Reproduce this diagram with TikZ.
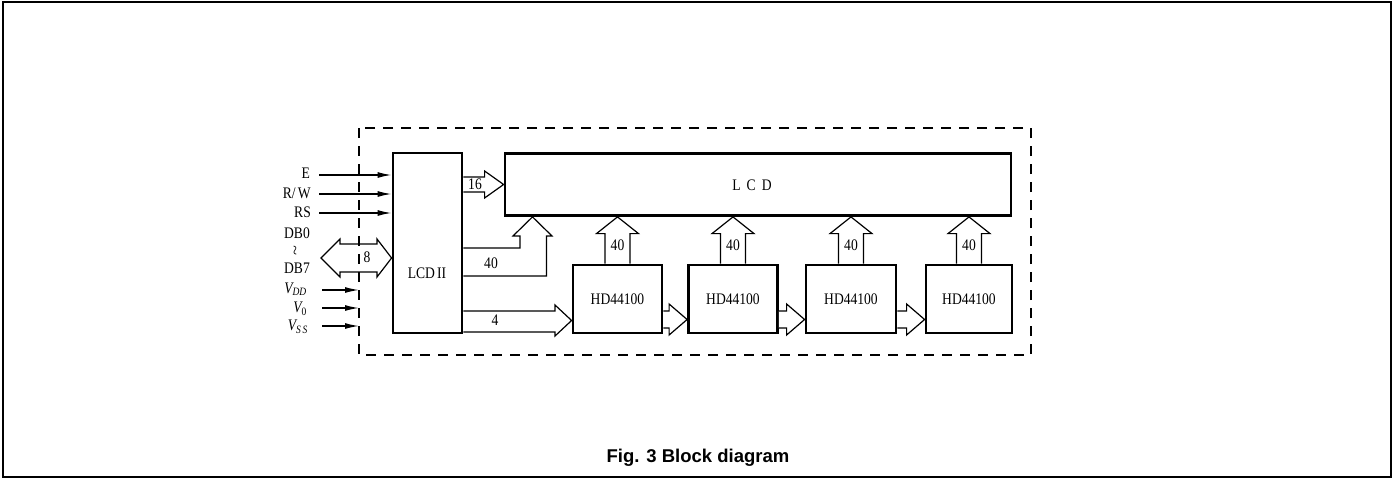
\documentclass[tikz,border=0pt]{standalone}
\usepackage{graphicx}
\usepackage{fontspec}
\setmainfont{Liberation Serif}
\newfontfamily\capfont{Liberation Sans}
\usetikzlibrary{arrows.meta,calc}
\newcommand\tallt[1]{\scalebox{0.97}[1.15]{#1}}
\newcommand\hdup[1]{%
  \draw[bus] ($(#1.north)+(-12.5,0)$) -- ++(0,-30) -- ++(-8.5,0) -- (#1.north |- lcd.south)
     -- ($(#1.north)+(21,-30)$) -- ++(-8.5,0) -- ++(0,30);
  \node[txt] (#1lbl) at ($(#1.north)+(0,-18)$) {\tallt{40}};}
\newcommand\hdchain[2]{%
  \draw[bus] ($(#1.east)+(0,12)$) -- ($(#2.west)+(-18,12)$) -- ($(#2.west)+(-18,5)$)
     -- ($(#2.west)+(0,20.5)$) -- ($(#2.west)+(-18,36)$) -- ($(#2.west)+(-18,29)$)
     -- ($(#1.east)+(0,29)$);}
\begin{document}
\begin{tikzpicture}[x=1pt,y=-1pt,
  blk/.style={draw,line width=2.8pt,inner sep=0pt},
  txt/.style={font=\fontsize{14}{14}\selectfont,inner sep=0pt},
  bus/.style={draw,line width=1.2pt,fill=white,line join=miter},
  sig/.style={line width=1.4pt,-{Latex[length=14pt,width=6pt]}},
  hd/.style={blk,txt,minimum height=68pt}]
\useasboundingbox (0,0) rectangle (1393,479);
\draw[line width=1.6pt] (3,2) rectangle (1391,477);

% blocks
\node[blk,minimum width=69pt,minimum height=180pt] (lcdii) at (427.5,243) {};
\node[txt] (lcdiit) at (427,273) {\tallt{LCD\,II}};
\node[blk,minimum width=506pt,minimum height=62pt] (lcd) at (758,184.5) {};
\node[txt] (lcdt) at (752,185) {\tallt{L\hspace{0.45em}C\hspace{0.45em}D}};
\node[hd,minimum width=89pt] (hd1) at (617.5,299) {\tallt{HD44100}};
\node[hd,minimum width=89pt] (hd2) at (733,299) {\tallt{HD44100}};
\node[hd,minimum width=90pt] (hd3) at (851,299) {\tallt{HD44100}};
\node[hd,minimum width=86pt] (hd4) at (969,299) {\tallt{HD44100}};

% LCDII -> LCD, 16
\draw[bus] ($(lcdii.east|-lcd.west)+(0,-7.5)$) -- ($(lcd.west)+(-19,-7.5)$) -- ($(lcd.west)+(-19,-13.5)$)
   -- (lcd.west) -- ($(lcd.west)+(-19,13.5)$) -- ($(lcd.west)+(-19,7.5)$) -- ($(lcdii.east|-lcd.west)+(0,7.5)$);
\node[txt] (l16) at (475,184) {\tallt{16}};

% LCDII -> LCD, 40 (bent)
\coordinate (tip40) at (532.5,215.5);
\draw[bus] (lcdii.east|-0,248) -- (520,248) -- (520,236) -- (513,236) -- (tip40|-lcd.south)
   -- (552,236) -- (546.5,236) -- (546.5,276) -- (lcdii.east|-0,276);
\node[txt] (l40) at (491,263) {\tallt{40}};

% LCDII -> HD1, 4
\draw[bus] (lcdii.east|-0,311) -- (555,311) -- (555,305) -- (hd1.west|-0,320.5)
   -- (555,336) -- (555,332) -- (lcdii.east|-0,332);
\node[txt] (l4) at (495,320) {\tallt{4}};

% HD -> LCD, 40
\hdup{hd1}
\hdup{hd2}
\hdup{hd3}
\hdup{hd4}

% HD chain
\hdchain{hd1}{hd2}
\hdchain{hd2}{hd3}
\hdchain{hd3}{hd4}

% inputs
\coordinate (inE) at (319,175);
\coordinate (inRW) at (319,194);
\coordinate (inRS) at (319,213);
\draw[sig] (inE) -- (inE-|lcdii.west);
\draw[sig] (inRW) -- (inRW-|lcdii.west);
\draw[sig] (inRS) -- (inRS-|lcdii.west);
\node[txt,anchor=east] (lE) at (310,173) {\tallt{E}};
\node[txt,anchor=east] (lRW) at (311,193) {\tallt{R/\,W}};
\node[txt,anchor=east] (lRS) at (311,212) {\tallt{RS}};

% data bus
\draw[bus,fill=none] (321,258) -- (340,239) -- (340,244) -- (377,244) -- (377,239) -- (lcdii.west|-0,258)
   -- (377,277) -- (377,272) -- (340,272) -- (340,277) -- cycle;
\node[txt] (l8) at (367,257) {\tallt{8}};
\node[txt] (ldb0) at (297,233) {\tallt{DB0}};
\node[txt] (lwr) at (297,250.5) {\rotatebox[origin=c]{90}{\scalebox{1.3}[1.1]{\textasciitilde}}};
\node[txt] (ldb7) at (297,268) {\tallt{DB7}};

% supplies
\coordinate (fl) at (359,0);
\coordinate (inVDD) at (322,290);
\coordinate (inV0) at (322,308);
\coordinate (inVSS) at (322,326);
\draw[sig] (inVDD) -- (inVDD-|fl);
\draw[sig] (inV0) -- (inV0-|fl);
\draw[sig] (inVSS) -- (inVSS-|fl);
\node[txt,anchor=east] (lVDD) at (307,289) {\tallt{\itshape V\textsubscript{DD}}};
\node[txt,anchor=east] (lV0) at (307,309) {\tallt{\itshape V\textsubscript{\upshape 0}}};
\node[txt,anchor=east] (lVSS) at (308,327) {\tallt{\itshape V\textsubscript{S\,S}}};

% dashed module outline
\draw[line width=1.4pt,dash pattern=on 10pt off 8pt] (359,128) rectangle (1031,355);

% caption
\node[font=\capfont\bfseries\fontsize{18.5}{18.5}\selectfont,inner sep=0pt] (cap) at (698,458) {Fig. 3 Block diagram};
\end{tikzpicture}
\end{document}
